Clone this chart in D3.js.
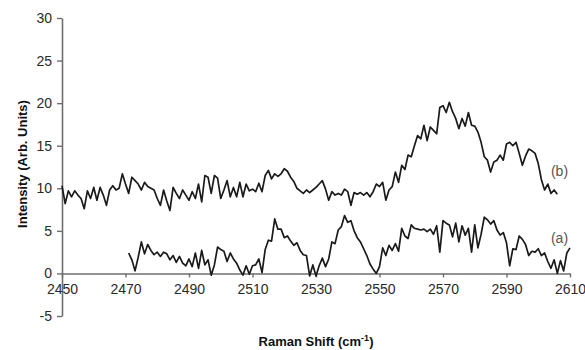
<!DOCTYPE html>
<html>
<head>
<meta charset="utf-8">
<script src="https://cdn.jsdelivr.net/npm/d3@7"></script>
<style>
  body { margin: 0; background: #fff; }
  text { font-family: "Liberation Sans", Arial, sans-serif; }
</style>
</head>
<body>
<div id="chart"></div>
<script>
// Raman spectra, two traces (1 cm-1 steps)
const startB = 2450;
const intensityB = [
  10.3, 8.2, 9.7, 9.0, 9.7, 9.2, 8.8, 7.6, 9.7, 8.8,
  10.1, 8.6, 10.1, 9.2, 8.0, 9.8, 10.3, 9.8, 10.0, 11.7,
  10.5, 9.4, 11.3, 10.9, 10.5, 9.8, 10.7, 10.2, 10.0, 9.8,
  8.8, 8.0, 9.8, 8.5, 7.4, 10.1, 9.4, 8.8, 9.8, 9.2,
  8.6, 9.6, 8.8, 10.5, 8.4, 11.5, 11.3, 9.4, 11.5, 11.2,
  8.8, 9.8, 10.9, 9.0, 10.1, 9.0, 10.7, 9.0, 10.5, 9.7,
  9.9, 9.6, 10.6, 9.6, 11.5, 12.1, 11.1, 11.7, 11.4, 11.7,
  12.3, 12.0, 11.3, 10.8, 10.0, 9.7, 9.4, 9.8, 9.5, 9.8,
  10.1, 10.5, 10.9, 9.9, 8.6, 9.6, 9.2, 9.4, 9.2, 9.9,
  9.6, 8.0, 9.5, 9.3, 9.5, 9.2, 9.5, 9.0, 9.6, 10.5,
  10.2, 10.7, 8.6, 9.8, 10.2, 11.9, 10.7, 12.7, 12.2, 13.9,
  13.7, 15.0, 16.2, 15.8, 17.4, 15.6, 17.2, 16.8, 16.4, 19.5,
  19.7, 18.9, 20.1, 19.0, 18.2, 17.0, 18.2, 17.3, 18.9, 17.4,
  17.3, 16.6, 15.4, 13.7, 13.3, 11.9, 13.1, 13.3, 13.9, 13.3,
  15.2, 15.4, 15.0, 15.4, 14.1, 12.7, 13.8, 14.6, 14.4, 14.1,
  12.9, 11.0, 9.8, 10.5, 9.4, 9.8, 9.3
];

const startA = 2471;
const intensityA = [
  2.4, 1.6, 0.3, 1.9, 3.7, 2.3, 3.4, 2.7, 2.2,
  2.5, 2.0, 2.5, 2.3, 1.6, 2.1, 1.3, 2.0, 1.2, 0.9,
  1.7, 0.8, 2.4, 0.6, 2.7, 1.0, 1.6, -0.2, 1.0, 3.1,
  2.8, 2.6, 1.4, 2.4, 1.7, 1.2, 0.4, -0.2, 0.9, -0.1,
  0.9, 1.0, 1.7, 0.1, 2.8, 3.9, 3.8, 6.4, 5.2, 5.2,
  4.2, 4.4, 3.8, 3.3, 3.6, 2.7, 2.2, 2.1, -0.3, 1.0,
  -0.3, 0.9, 1.8, 0.8, 1.7, 3.7, 3.5, 5.1, 5.5, 6.8,
  6.0, 6.2, 5.0, 4.2, 3.7, 2.9, 2.1, 1.1, 0.5, 0.0,
  0.8, 3.0, 2.1, 3.3, 2.7, 3.5, 2.6, 5.3, 4.4, 4.1,
  5.7, 5.3, 5.2, 5.1, 5.2, 4.9, 5.2, 4.6, 5.6, 2.5,
  6.2, 5.9, 5.7, 4.3, 5.9, 3.7, 5.6, 4.5, 5.3, 2.5,
  5.7, 3.0, 4.6, 6.6, 6.3, 5.8, 6.2, 5.1, 4.5, 4.8,
  3.6, 0.9, 2.9, 2.8, 4.4, 4.0, 3.4, 2.1, 2.6, 2.5,
  2.9, 2.1, 2.4, 1.4, 0.6, 1.6, 0.0, 1.5, 0.3, 2.4,
  3.0
];

const xTicks = [2450, 2470, 2490, 2510, 2530, 2550, 2570, 2590, 2610];
const yTicks = [-5, 0, 5, 10, 15, 20, 25, 30];

const width = 585;
const height = 350;
const margin = { top: 18, right: 15, bottom: 34, left: 62 };

const svg = d3.select("#chart")
  .append("svg")
    .attr("width", width)
    .attr("height", height);

const x = d3.scaleLinear()
  .domain([2450, 2610])
  .range([margin.left, width - margin.right]);

const y = d3.scaleLinear()
  .domain([-5, 30])
  .range([height - margin.bottom, margin.top]);

const toPoints = (start, vals) => vals.map((v, i) => [start + i, v]);
const seriesA = toPoints(startA, intensityA);
const seriesB = toPoints(startB, intensityB);

// y axis (plain hyphen for negatives, like the original)
const yAxis = svg.append("g")
  .attr("transform", `translate(${x(2450)},0)`)
  .call(d3.axisLeft(y).tickValues(yTicks).tickFormat(d => String(d))
    .tickSize(5).tickSizeOuter(0).tickPadding(5));

// x axis sits on zero
const xAxis = svg.append("g")
  .attr("transform", `translate(0,${y(0)})`)
  .call(d3.axisBottom(x).tickValues(xTicks).tickFormat(d => String(d))
    .tickSize(4).tickSizeOuter(0).tickPadding(7));

[yAxis, xAxis].forEach(g => {
  g.select(".domain").attr("stroke", "#6e6e6e").attr("stroke-width", 1.6);
  g.selectAll(".tick line").attr("stroke", "#6e6e6e").attr("stroke-width", 1.4);
  g.selectAll(".tick text")
    .attr("fill", "#2a2a2a")
    .style("font-size", "14px")
    .style("font-family", "'Liberation Sans', Arial, sans-serif");
});

// spectra
const line = d3.line()
  .x(d => x(d[0]))
  .y(d => y(d[1]));

[seriesB, seriesA].forEach(s => {
  svg.append("path")
    .datum(s)
    .attr("fill", "none")
    .attr("stroke", "#1a1a1a")
    .attr("stroke-width", 1.7)
    .attr("stroke-linejoin", "round")
    .attr("d", line);
});

// trace labels
svg.append("text")
  .attr("x", x(2604)).attr("y", y(11.5))
  .attr("fill", "#555").style("font-size", "14px")
  .text("(b)");

svg.append("text")
  .attr("x", x(2604)).attr("y", y(3.6))
  .attr("fill", "#555").style("font-size", "14px")
  .text("(a)");

// axis titles
const xTitle = svg.append("text")
  .attr("x", 316).attr("y", 346)
  .attr("text-anchor", "middle")
  .style("font-size", "13px").style("font-weight", "bold")
  .attr("fill", "#111");
xTitle.append("tspan").text("Raman Shift (cm");
xTitle.append("tspan").attr("dy", -5).style("font-size", "9px").text("-1");
xTitle.append("tspan").attr("dy", 5).text(")");

svg.append("text")
  .attr("transform", `translate(27,${164}) rotate(-90)`)
  .attr("text-anchor", "middle")
  .style("font-size", "13px").style("font-weight", "bold")
  .attr("fill", "#111")
  .text("Intensity (Arb. Units)");
</script>
</body>
</html>
